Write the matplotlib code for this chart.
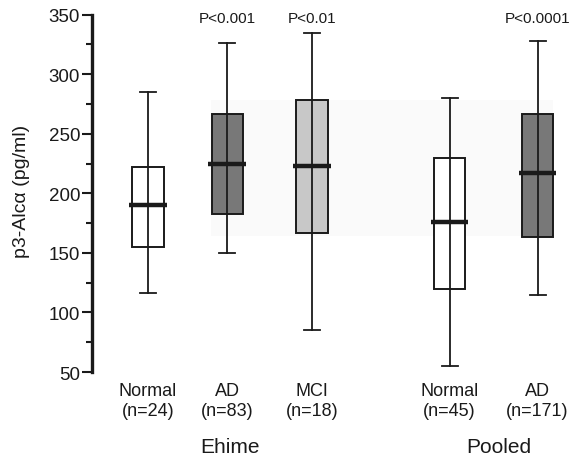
import matplotlib
matplotlib.use("Agg")
import matplotlib.pyplot as plt
from matplotlib.transforms import blended_transform_factory

plt.rcParams['font.family'] = ['Liberation Sans', 'DejaVu Sans']

categories = ["Normal", "AD", "MCI", "Normal", "AD"]
counts = ["(n=24)", "(n=83)", "(n=18)", "(n=45)", "(n=171)"]
groups = ["Ehime", "Pooled"]
pvalues = ["", "P<0.001", "P<0.01", "", "P<0.0001"]
whisker_low = [116, 150, 85, 55, 115]
q1 = [155, 183, 167, 120, 163]
median = [190, 225, 223, 176, 217]
q3 = [222, 267, 278, 230, 267]
whisker_high = [285, 326, 335, 280, 328]
colors = ["#ffffff", "#787878", "#c8c8c8", "#ffffff", "#787878"]
band = [164, 278]

positions = [0.7, 1.69, 2.75, 4.47, 5.57]
group_centers = [1.72, 5.08]

fig = plt.figure(figsize=(5.8, 4.6), dpi=100)
ax = fig.add_axes([92/580, 87/460, 488/580, 357.3/460])
ax.set_xlim(0, 6.1)
ax.set_ylim(50, 350)

# faint background band
ax.axhspan(band[0], band[1], xmin=(211-92)/488, xmax=(553-92)/488,
           color="#fafafa", zorder=0, lw=0)

stats = []
for i in range(len(categories)):
    stats.append(dict(med=median[i], q1=q1[i], q3=q3[i],
                      whislo=whisker_low[i], whishi=whisker_high[i],
                      label=categories[i]))

bp = ax.bxp(stats, positions=positions, widths=0.39, patch_artist=True,
            showfliers=False, manage_ticks=False,
            boxprops=dict(linewidth=1.4, edgecolor="#1a1a1a"),
            whiskerprops=dict(linewidth=1.3, color="#1a1a1a"),
            capprops=dict(linewidth=1.3, color="#1a1a1a"),
            medianprops=dict(linewidth=3.2, color="#1a1a1a", solid_capstyle="butt"),
            capwidths=0.2)
for patch, c in zip(bp['boxes'], colors):
    patch.set_facecolor(c)
    patch.set_zorder(2)
# whisker line through the box
for i, p in enumerate(positions):
    ax.plot([p, p], [q1[i], q3[i]], color="#1a1a1a", lw=1.3, zorder=3)
# extend medians beyond boxes
for m, p in zip(bp['medians'], positions):
    m.set_xdata([p - 0.235, p + 0.235])
    m.set_zorder(4)

# spines / ticks
for s in ["top", "right", "bottom"]:
    ax.spines[s].set_visible(False)
ax.spines["left"].set_linewidth(2.4)
ax.spines["left"].set_color("#1a1a1a")
ax.set_xticks([])
ax.set_yticks(range(50, 351, 50))
ax.set_yticks(range(75, 350, 50), minor=True)
ax.tick_params(axis="y", which="major", length=7.5, width=1.5, labelsize=13.5,
               color="#1a1a1a", labelcolor="#1a1a1a", pad=1)
ax.tick_params(axis="y", which="minor", length=4.5, width=1.5, color="#1a1a1a")

fig.text(22/580, 1 - 191/460, "p3-Alcα (pg/ml)", rotation=90, ha="center",
         va="center", fontsize=14, color="#1a1a1a")

tr = blended_transform_factory(ax.transData, fig.transFigure)
for p, c, n in zip(positions, categories, counts):
    ax.text(p, 1 - 392/460, c, transform=tr, ha="center", va="center",
            fontsize=13, color="#1a1a1a")
    ax.text(p, 1 - 412/460, n, transform=tr, ha="center", va="center",
            fontsize=13, color="#1a1a1a")
for g, x in zip(groups, group_centers):
    ax.text(x, 1 - 448/460, g, transform=tr, ha="center", va="center",
            fontsize=15, color="#1a1a1a")
for p, t in zip(positions, pvalues):
    if t:
        ax.text(p, 1 - 19/460, t, transform=tr, ha="center", va="center",
                fontsize=11, color="#1a1a1a")

fig.savefig("out.png", dpi=100)
